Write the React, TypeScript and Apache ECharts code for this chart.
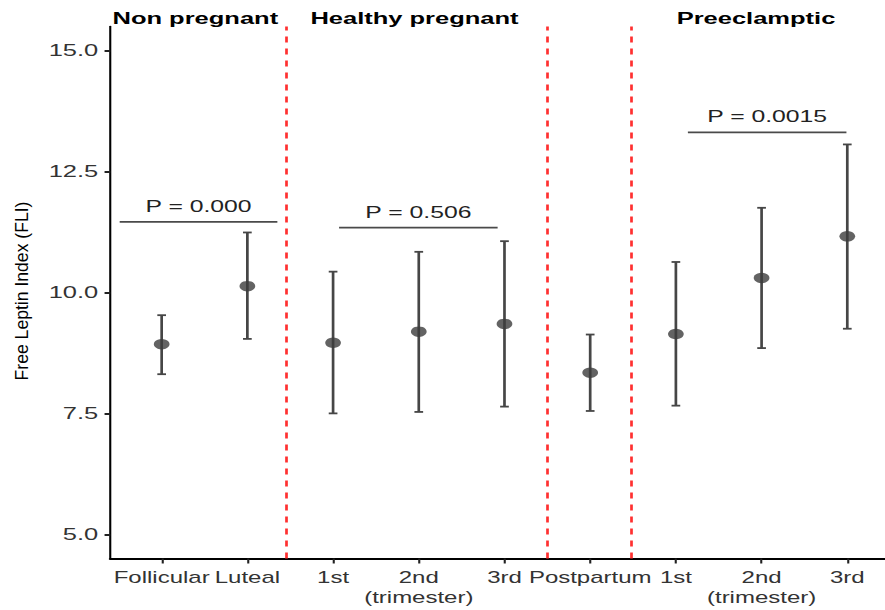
import React, { useEffect, useRef } from "react";
import * as echarts from "echarts";

// ---- data ----
const categories = [
  "Follicular",
  "Luteal",
  "1st",
  "2nd\n(trimester)",
  "3rd",
  "Postpartum",
  "1st",
  "2nd\n(trimester)",
  "3rd",
];
const positions = [1, 2, 3, 4, 5, 6, 7, 8, 9];
const means = [8.93, 10.13, 8.96, 9.19, 9.35, 8.34, 9.14, 10.3, 11.16];
const lower = [8.31, 9.04, 7.5, 7.53, 7.64, 7.55, 7.66, 8.85, 9.25];
const upper = [9.53, 11.24, 10.43, 10.84, 11.06, 9.13, 10.63, 11.75, 13.06];
const yTicks = [5, 7.5, 10, 12.5, 15];
const dividers = [2.45, 5.5, 6.48];
const groupTitles = ["Non pregnant", "Healthy pregnant", "Preeclamptic"];
const pLabels = ["P = 0.000", "P = 0.506", "P = 0.0015"];
const pStart = [0.51, 3.07, 7.14];
const pEnd = [2.35, 4.92, 8.99];
const pLevel = [11.46, 11.34, 13.31];
const yTitle = "Free Leptin Index (FLI)";

// ---- layout (drawn narrow, then stretched horizontally like the reference) ----
const SX = 1.5;
const W = 885 / SX;
const H = 610;
const FONT = "'Liberation Sans', Arial, sans-serif";
const titleX = [130.2, 276.3, 504];

function buildOption(): any {
  return {
    animation: false,
    backgroundColor: "#ffffff",
    grid: { left: 73.5, right: 0, top: 26.4, bottom: 51.5 },
    xAxis: {
      type: "value",
      min: 0.4,
      max: 9.44,
      splitLine: { show: false },
      axisLine: { show: true, onZero: false, lineStyle: { color: "#000", width: 2 } },
      axisTick: {
        show: true,
        length: 5,
        customValues: positions,
        lineStyle: { color: "#222", width: 1.4 },
      },
      axisLabel: {
        customValues: positions,
        formatter: (v: number) => categories[Math.round(v) - 1] ?? "",
        margin: 9,
        color: "#333",
        fontSize: 16,
        lineHeight: 20,
        fontFamily: FONT,
      },
    },
    yAxis: {
      type: "value",
      min: 4.5,
      max: 15.5,
      splitLine: { show: false },
      axisLine: { show: true, onZero: false, lineStyle: { color: "#000", width: 1.4 } },
      axisTick: {
        show: true,
        length: 3.8,
        customValues: yTicks,
        lineStyle: { color: "#222", width: 2 },
      },
      axisLabel: {
        customValues: yTicks,
        formatter: (v: number) => v.toFixed(1),
        margin: 8,
        color: "#333",
        fontSize: 17,
        fontFamily: FONT,
      },
    },
    graphic: [
      ...groupTitles.map((t, i) => ({
        type: "text",
        x: titleX[i],
        y: 18.5,
        silent: true,
        style: {
          text: t,
          fontSize: 17,
          fontWeight: "bold",
          fontFamily: FONT,
          fill: "#000",
          textAlign: "center",
          textVerticalAlign: "middle",
          align: "center",
          verticalAlign: "middle",
        },
      })),
      {
        type: "text",
        x: 14.7,
        y: 291,
        rotation: Math.PI / 2,
        scaleY: 1 / SX,
        silent: true,
        style: {
          text: yTitle,
          fontSize: 17.6,
          fontFamily: FONT,
          fill: "#000",
          textAlign: "center",
          textVerticalAlign: "middle",
          align: "center",
          verticalAlign: "middle",
        },
      },
    ],
    series: [
      {
        type: "custom",
        name: "whiskers",
        silent: true,
        data: positions.map((p, i) => [p, lower[i], upper[i]]),
        encode: { x: 0, y: [1, 2] },
        renderItem: (params: any, api: any) => {
          const x = api.value(0);
          const top = api.coord([x, api.value(2)]);
          const bot = api.coord([x, api.value(1)]);
          const hw = 2.9;
          const st = { stroke: "#464646", lineWidth: 1.8 };
          return {
            type: "group",
            children: [
              { type: "line", shape: { x1: top[0], y1: top[1], x2: bot[0], y2: bot[1] }, style: st },
              { type: "line", shape: { x1: top[0] - hw, y1: top[1], x2: top[0] + hw, y2: top[1] }, style: st },
              { type: "line", shape: { x1: bot[0] - hw, y1: bot[1], x2: bot[0] + hw, y2: bot[1] }, style: st },
            ],
          };
        },
        z: 2,
      },
      {
        type: "scatter",
        name: "mean",
        silent: true,
        symbol: "circle",
        symbolSize: 10.5,
        itemStyle: { color: "#3c3c3c" },
        data: positions.map((p, i) => [p, means[i]]),
        z: 3,
        markLine: {
          silent: true,
          symbol: ["none", "none"],
          label: { show: false },
          lineStyle: { color: "#ff3030", type: [6, 6], width: 1.8 },
          data: dividers.map((d) => ({ xAxis: d })),
        },
      },
      {
        type: "custom",
        name: "significance",
        silent: true,
        data: pLabels.map((_, i) => [pStart[i], pEnd[i], pLevel[i]]),
        encode: { x: [0, 1], y: 2 },
        renderItem: (params: any, api: any) => {
          const a = api.coord([api.value(0), api.value(2)]);
          const b = api.coord([api.value(1), api.value(2)]);
          return {
            type: "group",
            children: [
              {
                type: "line",
                shape: { x1: a[0], y1: a[1], x2: b[0], y2: b[1] },
                style: { stroke: "#4a4a4a", lineWidth: 1.6 },
              },
              {
                type: "text",
                x: (a[0] + b[0]) / 2,
                y: a[1] - 16,
                style: {
                  text: pLabels[params.dataIndex],
                  fontSize: 16.5,
                  fontFamily: FONT,
                  fill: "#222",
                  textAlign: "center",
                  textVerticalAlign: "middle",
                  align: "center",
                  verticalAlign: "middle",
                },
              },
            ],
          };
        },
        z: 2,
      },
    ],
  };
}

export default function App() {
  const ref = useRef<HTMLDivElement>(null);
  useEffect(() => {
    if (!ref.current) return;
    const chart = echarts.init(ref.current, null, { renderer: "svg" });
    chart.setOption(buildOption());
    return () => chart.dispose();
  }, []);
  return (
    <div
      ref={ref}
      style={{
        position: "absolute",
        left: 0,
        top: 0,
        width: W,
        height: H,
        transform: `scaleX(${SX})`,
        transformOrigin: "0 0",
        background: "#fff",
      }}
    />
  );
}
